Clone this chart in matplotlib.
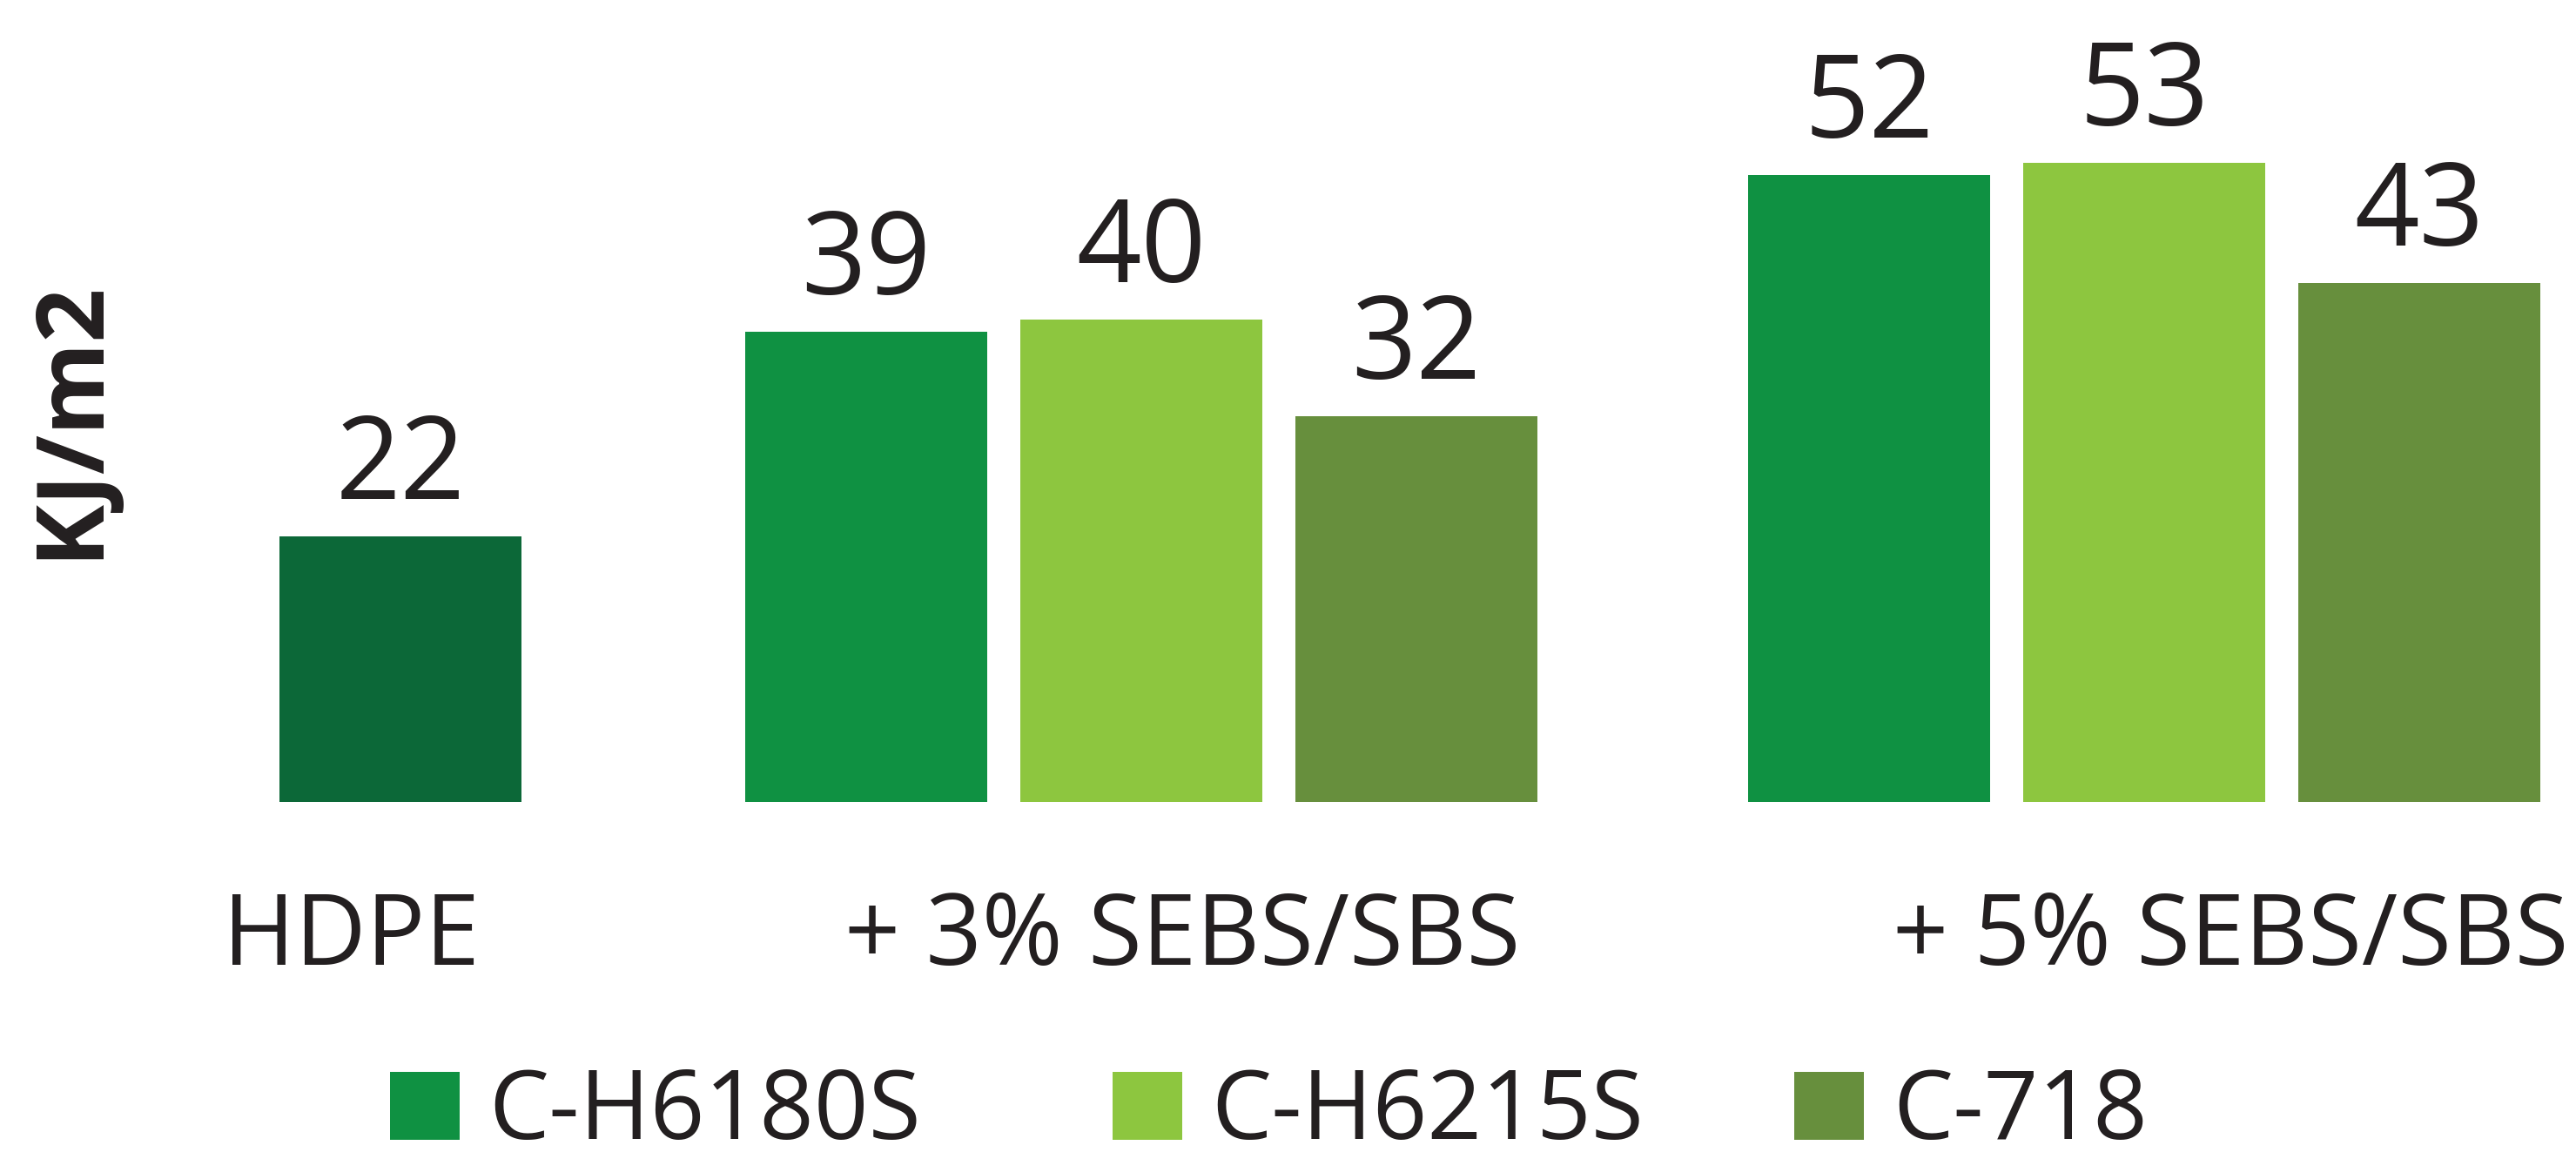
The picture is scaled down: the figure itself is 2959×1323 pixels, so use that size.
import matplotlib
matplotlib.use("Agg")
import matplotlib.pyplot as plt

# ---- data ----
groups = ["HDPE", "+ 3% SEBS/SBS", "+ 5% SEBS/SBS"]
series = ["C-H6180S", "C-H6215S", "C-718"]
hdpe_value = 22
sebs_3 = [39, 40, 32]
sebs_5 = [52, 53, 43]
y_label = "KJ/m2"

# ---- style ----
hdpe_color = "#0c6838"
series_colors = ["#0f9142", "#8dc63f", "#678f3d"]
text_color = "#231f20"
plt.rcParams['font.family'] = ['Open Sans', 'DejaVu Sans']

W, H = 2959, 1323
dpi = 100
fig = plt.figure(figsize=(W / dpi, H / dpi), dpi=dpi)

# axes: baseline at 921 px from top, spans full width
base_px = 921
ax = fig.add_axes([0, (H - base_px) / H, 1, base_px / H])
px_per_unit = 13.85
ax.set_ylim(0, base_px / px_per_unit)
unit = 316.0
ax.set_xlim((0 - 460) / unit, (W - 460) / unit)

bar_w = 0.88
group_centers = [0.0, 2.693, 6.339]
offsets = [-1, 0, 1]

val_fs = 94
val_gap = 43 / px_per_unit
ax.bar([group_centers[0]], [hdpe_value], width=bar_w, color=hdpe_color)
ax.text(group_centers[0], hdpe_value + val_gap, str(hdpe_value), ha="center", va="baseline",
        fontsize=val_fs, color=text_color)

handles = []
for i, name in enumerate(series):
    xs = [group_centers[1] + offsets[i], group_centers[2] + offsets[i]]
    vals = [sebs_3[i], sebs_5[i]]
    b = ax.bar(xs, vals, width=bar_w, color=series_colors[i], label=name)
    handles.append(b)
    for x, v in zip(xs, vals):
        ax.text(x, v + val_gap, str(v), ha="center", va="baseline", fontsize=val_fs, color=text_color)

ax.axis("off")

# category labels
cat_fs = 81
cat_x = [(403 - 460) / unit, (1358 - 460) / unit, (2562 - 460) / unit]
for x, g in zip(cat_x, groups):
    ax.text(x, -(1108 - base_px) / px_per_unit, g, ha="center", va="baseline",
            fontsize=cat_fs, color=text_color, clip_on=False)

# y label
fig.text(82 / W, 1 - 481 / H, y_label, rotation=90, ha="center", va="center",
         fontsize=78, fontweight="bold", color=text_color)

# legend: one entry per column position
leg_x = [448, 1278, 2061]
for h, name, lx in zip(handles, series, leg_x):
    leg = fig.legend(handles=[h], labels=[name], loc="lower left",
                     bbox_to_anchor=(lx / W, -0.0085), frameon=False,
                     fontsize=79, handlelength=0.73, handleheight=0.72,
                     handletextpad=0.3, borderpad=0.0, borderaxespad=0.0)
    for t in leg.get_texts():
        t.set_color(text_color)

fig.savefig("out.png", dpi=dpi, facecolor="white")
